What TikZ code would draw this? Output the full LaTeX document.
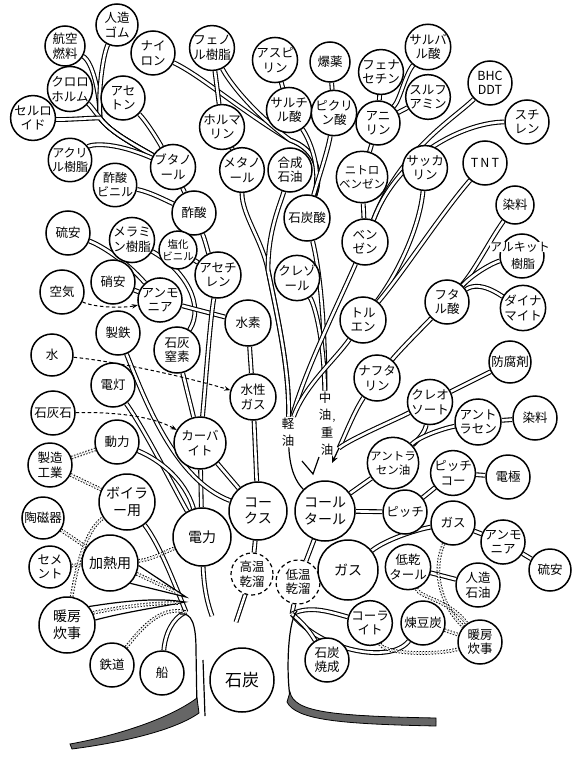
\documentclass[tikz,border=0pt]{standalone}
\usepackage{fontspec}
\newfontfamily\jp{Noto Sans CJK JP}
\usetikzlibrary{arrows.meta,backgrounds}
\tikzset{
  item/.style={circle, draw, line width=1.5pt, fill=white, inner sep=0pt,
    minimum size=44pt, align=center, font=\jp\fontsize{12.5}{14.5}\selectfont},
  wide/.style={item, font=\jp\fontsize{14}{17}\selectfont},
  proc/.style={item, line width=1.2pt, dash pattern=on 4pt off 3pt},
  tag/.style={align=center, inner sep=1pt, font=\jp\fontsize{12.5}{17}\selectfont},
  branch/.style={line width=1.1pt, double=white, double distance=2.6pt},
  usage/.style={line width=0.9pt, double=white, double distance=1.8pt, dash pattern=on 1.4pt off 1.6pt},
  feed/.style={line width=1pt, dash pattern=on 3.5pt off 2.5pt, -{Stealth[length=6pt,width=4.5pt]}},
  stem/.style={line width=1.2pt},
  root/.style={line width=0.8pt, fill=black!60},
}
\begin{document}
\begin{tikzpicture}[x=1pt,y=-1pt]
\useasboundingbox (0,0) rectangle (584,759);

% products, upper left
\node[item,minimum size=40pt] (koku) at (65,46) {航空\\燃料};
\node[item,minimum size=42pt] (gomu) at (117,25) {人造\\ゴム};
\node[item] (nylon) at (153,53) {ナイ\\ロン};
\node[item] (chloro) at (70,89) {クロロ\\ホルム};
\node[item] (aceton) at (123,98) {アセ\\トン};
\node[item] (cellu) at (33,118) {セルロ\\イド};
\node[item,minimum size=40pt,font=\jp\fontsize{12}{14}\selectfont] (acryl) at (70,160) {アクリ\\ル樹脂};
\node[item,minimum size=40pt,font=\jp\fontsize{12}{14}\selectfont] (sakubi) at (115,185) {酢酸\\ビニル};
\node[item] (butanol) at (173,167) {ブタノ\\ール};
\node[item] (sakusan) at (194,213) {酢酸};
\node[item,minimum size=34pt,font=\jp\fontsize{10.5}{12}\selectfont] (enbi) at (178,250) {塩化\\ビニル};

% upper middle
\node[item,minimum size=42pt] (phenol) at (212,48) {フェノ\\ル樹脂};
\node[item] (aspirin) at (275,60) {アスピ\\リン};
\node[item,minimum size=40pt] (bakuyaku) at (330,62) {爆薬};
\node[item] (phenacetin) at (381,72) {フェナ\\セチン};
\node[item] (salchil) at (289,110) {サルチ\\ル酸};
\node[item] (picric) at (334,113) {ピクリ\\ン酸};
\node[item] (aniline) at (378,123) {アニ\\リン};
\node[item] (formalin) at (222,127) {ホルマ\\リン};
\node[item] (methanol) at (242,170) {メタノ\\ール};
\node[item] (gosei) at (290,170) {合成\\石油};
\node[item,minimum size=46pt,font=\jp\fontsize{11.5}{14}\selectfont] (nitro) at (362,177) {ニトロ\\ベンゼン};
\node[item,minimum size=46pt] (sekitansan) at (307,218) {石炭酸};
\node[item,minimum size=46pt] (benzene) at (365,242) {ベン\\ゼン};
\node[item] (cresol) at (297,278) {クレゾ\\ール};
\node[item,minimum size=46pt] (toluene) at (363,320) {トル\\エン};
\node[item,minimum size=46pt] (naphtha) at (377,378) {ナフタ\\リン};

% upper right
\node[item] (salvar) at (428,47) {サルバ\\ル酸};
\node[item] (sulfa) at (428,97) {スルフ\\アミン};
\node[item] (bhc) at (490,83) {BHC\\DDT};
\node[item] (styrene) at (527,122) {スチ\\レン};
\node[item] (saccharin) at (425,168) {サッカ\\リン};
\node[item] (tnt) at (485,163) {T\,N\,T};
\node[item,minimum size=38pt] (senryo) at (515,205) {染料};
\node[item] (alkyd) at (522,256) {};
\node[tag,fill=white,inner sep=0pt,font=\jp\fontsize{12}{14}\selectfont] (alkydA) at (520,247) {アルキット};
\node[tag,font=\jp\fontsize{12}{14}\selectfont] (alkydB) at (523,264) {樹脂};
\node[item] (phthal) at (447,302) {フタ\\ル酸};
\node[item,minimum size=42pt] (dynamite) at (523,308) {ダイナ\\マイト};
\node[item,minimum size=42pt] (bofu) at (510,362) {防腐剤};

% tar products, right
\node[item] (creosote) at (430,402) {クレオ\\ソート};
\node[item,minimum size=46pt] (anthracene) at (478,422) {アント\\ラセン};
\node[item] (senryo2) at (535,418) {染料};
\node[item,minimum size=50pt,font=\jp\fontsize{11.5}{14}\selectfont] (antoil) at (393,463) {アントラ\\セン油};
\node[item] (pitchcoke) at (453,473) {ピッチ\\コー};
\node[item] (denkyoku) at (508,477) {電極};
\node[item] (pitch) at (405,512) {ピッチ};
\node[item] (gas2) at (453,523) {ガス};
\node[item] (ammonia2) at (503,542) {アンモ\\ニア};
\node[item,minimum size=42pt] (ryuan2) at (550,570) {硫安};
\node[item] (teikan) at (408,567) {低乾\\タール};
\node[item] (jinzo) at (478,585) {人造\\石油};
\node[item] (rentan) at (423,623) {煉豆炭};
\node[item] (danbo2) at (480,642) {暖房\\炊事};
\node[item] (coalite) at (370,623) {コーラ\\イト};
\node[item] (shoseki) at (327,660) {石炭\\焼成};

% left and middle
\node[item] (ryuan) at (68,233) {硫安};
\node[item] (melamine) at (132,240) {メラミ\\ン樹脂};
\node[item] (shoan) at (113,282) {硝安};
\node[item] (ammonia) at (160,300) {アンモ\\ニア};
\node[item] (kuki) at (62,292) {空気};
\node[item] (seitetsu) at (118,333) {製鉄};
\node[item,minimum size=46pt] (sekkai) at (177,350) {石灰\\窒素};
\node[item,minimum size=42pt] (mizu) at (52,355) {水};
\node[item,minimum size=46pt] (acetylene) at (218,275) {アセチ\\レン};
\node[item,minimum size=46pt] (suiso) at (248,323) {水素};
\node[item,minimum size=46pt] (suisei) at (253,397) {水性\\ガス};
\node[item] (dento) at (113,385) {電灯};
\node[item] (sekkaiseki) at (53,413) {石灰石};
\node[item] (doryoku) at (117,442) {動力};
\node[item,minimum size=52pt] (carbide) at (200,443) {カーバ\\イト};
\node[item] (seizo) at (50,465) {製造\\工業};
\node[wide,minimum size=56pt] (boiler) at (127,502) {ボイラ\\ー用};
\node[item,minimum size=42pt] (toji) at (43,518) {陶磁器};
\node[wide,minimum size=58pt] (denryoku) at (202,537) {電力};
\node[wide,minimum size=58pt] (coke) at (258,511) {コー\\クス};
\node[wide,minimum size=60pt] (tar) at (325,511) {コール\\タール};
\node[proc,minimum size=42pt] (koon) at (252,574) {高温\\乾溜};
\node[proc,minimum size=44pt] (teion) at (298,582) {低温\\乾溜};
\node[wide,minimum size=60pt] (gas) at (348,570) {ガス};
\node[item,minimum size=42pt] (cement) at (50,567) {セメ\\ント};
\node[wide,minimum size=56pt] (kanetsu) at (110,563) {加熱用};
\node[wide,minimum size=56pt] (danbo) at (67,625) {暖房\\炊事};
\node[item] (tetsudo) at (112,665) {鉄道};
\node[item] (fune) at (162,673) {船};
\node[item,minimum size=64pt,font=\jp\fontsize{17}{19}\selectfont] (sekitan) at (242,680) {石炭};

% oil fractions
\node[tag] (keiyu) at (288,432) {軽\\油};
\node[tag] (chuyu) at (325,406) {中\\油};
\node[tag,font=\jp\fontsize{10}{10}\selectfont] (tenten) at (334,421) {,};
\node[tag] (juyu) at (327,441) {重\\油};

\coordinate (tl) at (186,612);
\coordinate (tc) at (212,616);
\coordinate (tm) at (236,622);
\coordinate (tr) at (292,614);
\coordinate (aN) at (339,448);

\begin{scope}[on background layer]
% upper left
\draw[branch] (koku) .. controls (93,62) and (100,95) .. (100,118) .. controls (110,132) and (135,145) .. (butanol);
\draw[branch] (gomu) .. controls (103,55) and (98,90) .. (100,118) .. controls (110,132) and (135,145) .. (butanol);
\draw[branch] (chloro) .. controls (90,105) and (95,112) .. (100,118) .. controls (110,132) and (135,145) .. (butanol);
\draw[branch] (cellu) .. controls (65,120) and (88,118) .. (100,118) .. controls (110,132) and (135,145) .. (butanol);
\draw[branch] (acryl) .. controls (90,145) and (110,140) .. (butanol);
\draw[branch] (aceton) .. controls (145,120) and (155,135) .. (butanol);
\draw[branch] (butanol) -- (sakusan);
\draw[branch] (sakubi) .. controls (150,192) and (165,200) .. (sakusan);
\draw[branch] (sakusan) .. controls (205,240) and (208,252) .. (acetylene);
\draw[branch] (enbi) -- (acetylene);
\draw[branch] (melamine) .. controls (185,270) and (205,305) .. (sekkai);
\draw[branch] (ryuan) .. controls (100,245) and (125,260) .. (ammonia);
\draw[branch] (shoan) -- (ammonia);
\draw[branch] (ammonia) -- (suiso);
% phenol group
\draw[branch] (nylon) .. controls (200,75) and (240,110) .. (290,140) .. controls (318,150) and (322,175) .. (sekitansan);
\draw[branch] (phenol) .. controls (228,80) and (250,110) .. (290,140) .. controls (318,150) and (322,175) .. (sekitansan);
\draw[branch] (phenol) -- (formalin);
\draw[branch] (formalin) -- (methanol);
\draw[branch] (aspirin) -- (salchil);
\draw[branch] (salchil) .. controls (310,140) and (322,170) .. (sekitansan);
\draw[branch] (bakuyaku) -- (picric);
\draw[branch] (picric) .. controls (328,150) and (318,180) .. (sekitansan);
\draw[branch] (methanol) .. controls (242,215) and (262,240) .. (268,270) .. controls (276,310) and (290,370) .. (keiyu);
\draw[branch] (gosei) .. controls (280,205) and (268,230) .. (268,270) .. controls (276,310) and (290,370) .. (keiyu);
\draw[branch] (sekitansan) .. controls (322,280) and (325,340) .. (chuyu);
\draw[branch] (cresol) .. controls (315,305) and (324,340) .. (chuyu);
% benzene group
\draw[branch] (phenacetin) -- (aniline);
\draw[branch] (salvar) .. controls (405,75) and (400,100) .. (aniline);
\draw[branch] (sulfa) -- (aniline);
\draw[branch] (aniline) -- (nitro);
\draw[branch] (nitro) -- (benzene);
\draw[branch] (bhc) .. controls (455,118) and (400,150) .. (benzene);
\draw[branch] (styrene) .. controls (470,122) and (400,150) .. (benzene);
\draw[branch] (saccharin) .. controls (420,225) and (400,270) .. (toluene);
\draw[branch] (tnt) .. controls (440,215) and (405,270) .. (toluene);
\draw[branch] (benzene) .. controls (340,300) and (305,370) .. (keiyu);
\draw[branch] (toluene) .. controls (335,360) and (305,385) .. (keiyu);
% naphthalene group
\draw[branch] (senryo) .. controls (490,240) and (475,270) .. (phthal);
\draw[branch] (alkyd) .. controls (495,262) and (475,272) .. (phthal);
\draw[branch] (dynamite) .. controls (500,295) and (480,280) .. (phthal);
\draw[branch] (phthal) .. controls (420,330) and (400,350) .. (naphtha);
\draw[branch] (naphtha) .. controls (355,410) and (345,435) .. (aN);
\draw[branch] (creosote) .. controls (395,420) and (352,438) .. (aN);
\draw[branch] (bofu) -- (creosote);
\draw[branch] (creosote) .. controls (425,432) and (418,440) .. (antoil);
\draw[branch] (anthracene) .. controls (445,428) and (420,436) .. (antoil);
\draw[branch] (anthracene) -- (senryo2);
\draw[branch] (antoil) -- (tar);
\draw[branch] (pitch) -- (tar);
\draw[branch] (pitch) -- (pitchcoke);
\draw[branch] (pitchcoke) -- (denkyoku);
\draw[branch] (gas) .. controls (385,540) and (415,530) .. (gas2);
\draw[branch] (gas2) -- (ammonia2);
\draw[branch] (ammonia2) -- (ryuan2);
\draw[branch] (teikan) -- (jinzo);
% coke side
\draw[branch] (suiso) -- (suisei);
\draw[branch] (acetylene) .. controls (210,320) and (205,390) .. (carbide);
\draw[branch] (sekkai) -- (carbide);
\draw[branch] (carbide) -- (coke);
\draw[branch] (suisei) -- (coke);
\draw[branch] (denryoku) -- (carbide);
\draw[branch] (dento) .. controls (145,430) and (175,490) .. (denryoku);
\draw[branch] (doryoku) .. controls (160,460) and (185,480) .. (denryoku);
\draw[branch] (seitetsu) .. controls (145,400) and (175,480) .. (coke);
\draw[branch] (boiler) .. controls (160,545) and (175,585) .. (tl);
\draw[branch] (denryoku) .. controls (204,590) and (208,605) .. (tc);
\draw[branch] (fune) .. controls (165,635) and (172,618) .. (tl);
\draw[branch] (coke) -- (koon);
\draw[branch] (koon) -- (tm);
\draw[branch] (tar) -- (teion);
\draw[branch] (gas) -- (teion);
\draw[branch] (teion) -- (tr);
\draw[branch] (tr) .. controls (310,605) and (330,612) .. (coalite);
\draw[branch] (tr) .. controls (320,650) and (390,665) .. (rentan);
\draw[branch] (tr) .. controls (305,625) and (310,632) .. (shoseki);
% wedges to the heating uses
\draw[stem,fill=white] (kanetsu.-5) -- (186,597) -- (kanetsu.-45);
\draw[stem,fill=white] (danbo.40) .. controls (130,600) and (160,598) .. (185,602) .. controls (160,607) and (125,612) .. (danbo.10);
% dotted uses
\draw[usage] (kanetsu.-22) -- (178,593);
\draw[usage] (danbo.25) .. controls (125,606) and (155,603) .. (178,603);
\draw[usage] (seizo) -- (doryoku);
\draw[usage] (seizo) -- (boiler);
\draw[usage] (toji) -- (kanetsu);
\draw[usage] (cement) -- (kanetsu);
\draw[usage] (danbo) .. controls (76,570) and (85,530) .. (boiler);
\draw[usage] (kanetsu) .. controls (150,560) and (165,552) .. (denryoku);
\draw[usage] (tetsudo) .. controls (140,630) and (160,605) .. (tl);
\draw[usage] (gas2) .. controls (432,570) and (440,605) .. (danbo2);
\draw[usage] (teikan) .. controls (420,598) and (450,600) .. (danbo2);
\draw[usage] (rentan) -- (danbo2);
\draw[usage] (coalite) .. controls (385,655) and (440,655) .. (danbo2);
% trunk and roots
\draw[stem] (180,614) .. controls (192,612) and (196,625) .. (196,650) -- (197,712);
\draw[stem] (203,660) -- (205,716);
\draw[stem] (297,611) .. controls (287,622) and (286,680) .. (291,702) .. controls (300,716) and (360,714) .. (436,722);
\draw[root] (197,698) .. controls (170,718) and (120,735) .. (70,744) -- (72,749) .. controls (125,742) and (175,730) .. (199,713) -- cycle;
\draw[root] (290,692) .. controls (294,712) and (330,716) .. (436,718) -- (436,726) .. controls (340,724) and (296,720) .. (287,702) -- cycle;
\end{scope}

% fraction marks
\draw[stem] (keiyu) .. controls (290,470) and (296,482) .. (tar);
\draw[stem] (302,461) -- (313,474) -- (319,457);
\draw[stem,-{Stealth[length=7pt,width=6pt]}] (aN) -- (332,463);

% raw material inputs
\draw[feed] (kuki) .. controls (95,308) and (125,308) .. (ammonia);
\draw[feed] (sekkaiseki) .. controls (110,412) and (150,415) .. (carbide);
\draw[feed] (mizu) .. controls (120,362) and (190,378) .. (suisei);
\end{tikzpicture}
\end{document}
